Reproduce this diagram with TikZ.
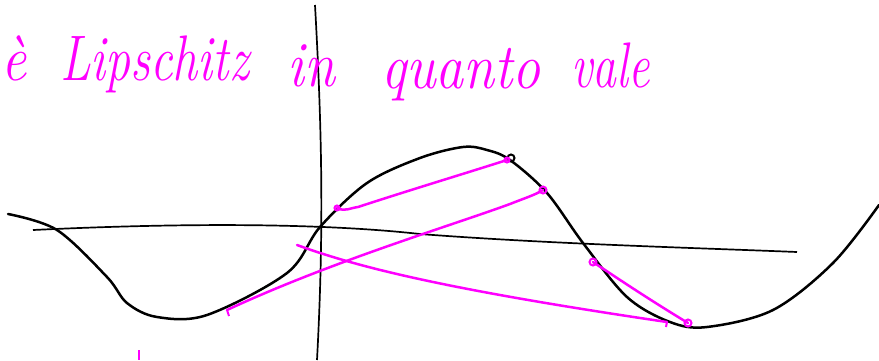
\documentclass[tikz,border=0pt]{standalone}
\usepackage{fontspec}
\definecolor{pen}{RGB}{255,0,255}
\tikzstyle{axis} = [draw=black,line width=1.7pt]
\tikzstyle{graph} = [draw=black,line width=2.5pt,line cap=round]
\tikzstyle{chord} = [draw=pen,line width=2.5pt,line cap=round]
\tikzstyle{tick} = [draw=pen,line width=2pt]
\tikzstyle{note} = [text=pen,font=\fontsize{56}{66}\selectfont\itshape,inner sep=0pt,anchor=base west,yscale=1.15]

\begin{document}
\begin{tikzpicture}[x=1pt,y=-1pt]
	\useasboundingbox (0,0) rectangle (879,360);
	% assi
	\draw[axis] (315,5) .. controls (322,130) and (324,230) .. (317,360);
	\draw[axis] (33,230) .. controls (200,222) and (330,224) .. (420,234)
		.. controls (550,244) and (700,248) .. (797,252);
	% grafico
	\draw[graph] plot[smooth,tension=0.55] coordinates {(8,214) (57,230) (107,277) (127,303) (157,317) (207,315) (287,273) (320,227) (367,183) (420,158) (463,147) (487,150) (510,160) (547,193) (583,243) (627,297) (670,322) (707,327) (773,310) (833,263) (879,205)};
	\draw[graph,line width=2pt] (511,158) circle (3.5pt);
	% punti
	\coordinate (A1) at (337,208);
	\coordinate (B1) at (507,160);
	\coordinate (A2) at (227,310);
	\coordinate (B2) at (543,190);
	\coordinate (A3) at (297,245);
	\coordinate (B3) at (667,322);
	\coordinate (A4) at (593,262);
	\coordinate (B4) at (688,323);
	% corde
	\draw[chord] (A1) .. controls (345,212) and (350,208) .. (358,207)
		.. controls (410,190) and (460,175) .. (B1);
	\draw[chord] (A2) .. controls (330,262) and (450,226) .. (510,204)
		.. controls (525,198) and (535,195) .. (B2);
	\draw[chord] (A3) .. controls (360,268) and (450,290) .. (B3);
	\draw[chord] (A4) .. controls (620,280) and (650,300) .. (B4);
	\draw[tick] (A1) circle (2.5pt);
	\draw[tick] (B1) circle (2.5pt);
	\draw[tick] (A2) -- ++(2,6);
	\draw[tick] (B2) circle (3.5pt);
	\draw[tick] (B3) -- ++(-1,5);
	\draw[tick] (A4) circle (3.5pt);
	\draw[tick] (B4) circle (3.5pt);
	\draw[tick] (139,350) -- (139,360);
	% testo
	\node[note] (e) at (1,80) {è};
	\node[note,xscale=0.89] (lip) at (60,80) {Lipschitz};
	\node[note] (in) at (287,86) {in};
	\node[note] (quanto) at (381,88) {quanto};
	\node[note,xscale=0.85] (vale) at (571,87) {vale};
\end{tikzpicture}
\end{document}
